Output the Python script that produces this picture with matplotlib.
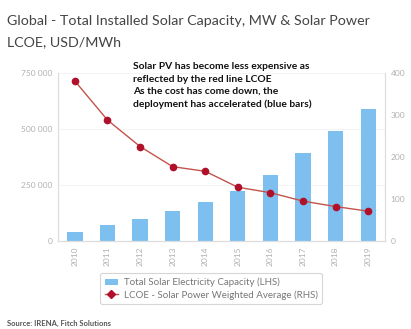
import matplotlib
matplotlib.use("Agg")
import matplotlib.pyplot as plt
from matplotlib.lines import Line2D
from matplotlib.patches import Patch

years = ["2010", "2011", "2012", "2013", "2014", "2015", "2016", "2017", "2018", "2019"]
capacity_mw = [40000, 72000, 100000, 136000, 175000, 223000, 295000, 392000, 490000, 590000]
lcoe_usd = [381, 288, 225, 177, 166, 128, 115, 95, 82, 71]
left_ticks = [0, 250000, 500000, 750000]
left_tick_labels = ["0", "250 000", "500 000", "750 000"]
right_ticks = [0, 100, 200, 300, 400]

plt.rcParams['font.family'] = ['Lato', 'DejaVu Sans']

fig = plt.figure(figsize=(4.11, 3.29), dpi=100)
ax = fig.add_axes([0.141, 0.2675, 0.796, 0.5105])
ax2 = ax.twinx()

x = list(range(len(years)))
bar_c = "#7dc0ef"
ax.bar(x, capacity_mw, width=0.47, color=bar_c, zorder=2)
ax.set_ylim(0, 750000)
ax.set_xlim(-0.52, 9.52)
ax.set_yticks(left_ticks)
ax.set_yticklabels(left_tick_labels)
ax.set_xticks(x)
ax.set_xticklabels(years, rotation=90)

ax2.plot(x, lcoe_usd, color="#c4534a", lw=1.0, marker="o", ms=4.5,
         mfc="#b0102a", mec="#b0102a", zorder=3)
ax2.set_ylim(0, 400)
ax2.set_yticks(right_ticks)

gc = "#dddddd"
for a in (ax, ax2):
    a.spines["top"].set_visible(False)
    for s in ["left", "right", "bottom"]:
        a.spines[s].set_color(gc)
        a.spines[s].set_linewidth(0.8)
    a.tick_params(colors="#b0b0b0", labelsize=6, length=0, pad=4)
ax.grid(axis="y", color="#f2f2f2", lw=0.6, zorder=0)
ax.set_axisbelow(True)

fig.text(0.017, 0.935, "Global - Total Installed Solar Capacity, MW & Solar Power",
         fontsize=10.3, color="#444444", va="center", ha="left")
fig.text(0.017, 0.873, "LCOE, USD/MWh", fontsize=10.3, color="#444444",
         va="center", ha="left")

fig.text(0.323, 0.74, "Solar PV has become less expensive as\n"
         "reflected by the red line LCOE\n"
         "As the cost has come down, the\n"
         "deployment has accelerated (blue bars)",
         fontsize=7.4, fontweight="bold", color="#111111", va="center",
         ha="left", linespacing=1.45)

handles = [Patch(facecolor=bar_c, edgecolor="none"),
           Line2D([0], [0], color="#c4534a", lw=1.0, marker="D", ms=4,
                  mfc="#b0102a", mec="#b0102a")]
labels = ["Total Solar Electricity Capacity (LHS)",
          "LCOE - Solar Power Weighted Average (RHS)"]
leg = fig.legend(handles, labels, loc="center", bbox_to_anchor=(0.514, 0.122),
                 fontsize=7.0, frameon=True, fancybox=True, edgecolor="#cccccc",
                 handlelength=1.4, handletextpad=0.6, borderpad=0.45,
                 labelspacing=0.3, labelcolor="#777777")
leg.get_frame().set_linewidth(0.8)

fig.text(0.017, 0.018, "Source: IRENA, Fitch Solutions", fontsize=5.5,
         fontweight="bold", color="#555555", va="center", ha="left")

fig.savefig("out.png", dpi=100, facecolor="white")
